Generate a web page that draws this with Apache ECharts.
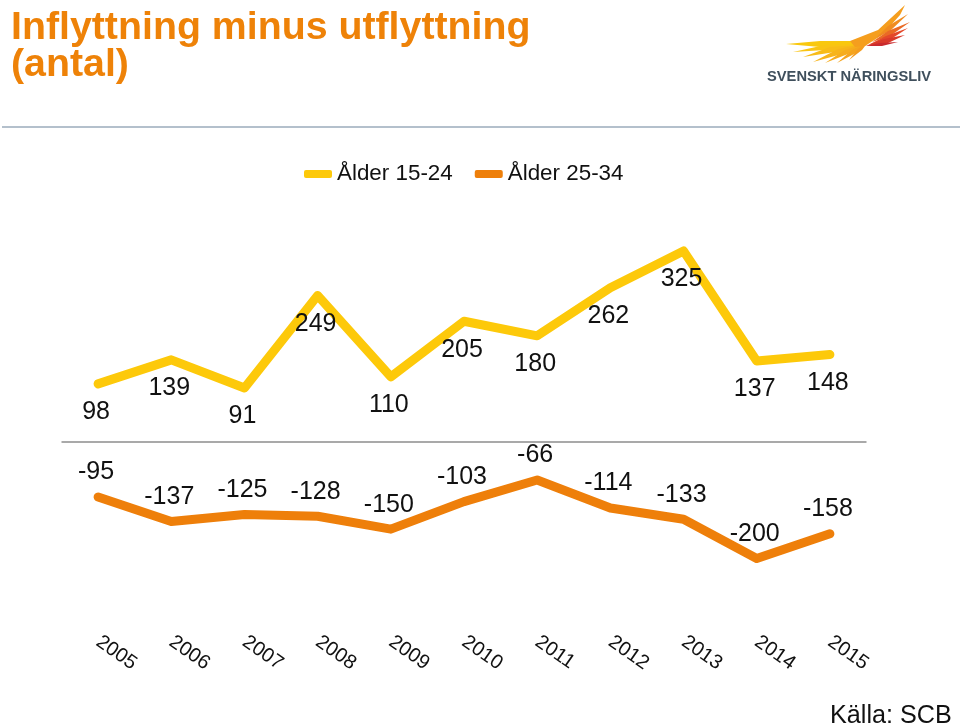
<!DOCTYPE html>
<html>
<head>
<meta charset="utf-8">
<style>html,body{margin:0;padding:0;background:#fff}#main{width:960px;height:725px}</style>
<script src="https://cdn.jsdelivr.net/npm/echarts@6/dist/echarts.min.js"></script>
</head>
<body>
<div id="main"></div>
<script>
const years = ['2005','2006','2007','2008','2009','2010','2011','2012','2013','2014','2015'];
const age1524 = [98,139,91,249,110,205,180,262,325,137,148];
const age2534 = [-95,-137,-125,-128,-150,-103,-66,-114,-133,-200,-158];

const font = '"Liberation Sans", Arial, sans-serif';

// logo wings, just decoration
const feathers = [
  {c:'#f9c80e', p:[[786,44],[820,41],[855,41],[868,40],[860,47],[820,47]]},
  {c:'#f9c414', p:[[793,52],[825,45],[860,44],[825,50]]},
  {c:'#f8bc18', p:[[803,57],[830,47],[860,45],[835,52]]},
  {c:'#f7b41b', p:[[813,62],[838,49],[862,44],[842,54]]},
  {c:'#f6ac1d', p:[[825,63],[845,50],[864,44],[848,54]]},
  {c:'#f5a41e', p:[[837,63],[852,50],[866,43],[856,53]]},
  {c:'#f49c1f', p:[[849,60],[858,49],[868,42],[862,50]]},
  {c:'#f59e1e', p:[[850,41],[878,30],[905,5],[900,15],[882,35],[865,46],[855,47]]},
  {c:'#f08c20', p:[[908,14],[888,26],[876,38],[890,31]]},
  {c:'#ea6a25', p:[[910,22],[888,31],[872,42],[890,36]]},
  {c:'#e4482a', p:[[908,28],[886,36],[868,45],[888,41]]},
  {c:'#d93a2b', p:[[905,35],[884,39],[866,46],[886,44]]},
  {c:'#c92a2e', p:[[898,42],[880,43],[866,46],[882,46]]}
];

const chart = echarts.init(document.getElementById('main'));
chart.setOption({
  animation: false,
  textStyle: {fontFamily: font},
  title: {
    text: 'Inflyttning minus utflyttning\n(antal)',
    left: 11, top: 9,
    padding: 0,
    textStyle: {color: '#ee8208', fontSize: 39.3, lineHeight: 37.5, fontWeight: 'bold', fontFamily: font}
  },
  legend: {
    top: 158, left: 299,
    itemWidth: 28, itemHeight: 8, itemGap: 22,
    icon: 'roundRect',
    textStyle: {fontSize: 22.4, color: '#111', fontFamily: font},
    data: ['Ålder 15-24','Ålder 25-34']
  },
  grid: {left: 61.5, width: 805, top: 207, height: 410},
  xAxis: {
    type: 'category',
    data: years,
    axisLine: {show: false},
    axisTick: {show: false},
    axisLabel: {rotate: -35, fontSize: 20, color: '#111', margin: 23, fontFamily: font}
  },
  yAxis: {type: 'value', min: -300, max: 400, show: false, splitLine: {show: false}},
  series: [{
    name: 'Ålder 15-24',
    type: 'line',
    data: age1524,
    symbol: 'circle',
    symbolSize: 2,
    lineStyle: {color: '#fdc90a', width: 9, cap: 'round', join: 'round'},
    itemStyle: {color: '#fdc90a'},
    label: {show: true, position: 'bottom', distance: 15, offset: [-2, 0], fontSize: 25, color: '#111', fontFamily: font},
    markLine: {
      silent: true,
      symbol: 'none',
      label: {show: false},
      lineStyle: {color: '#8c8c8c', width: 1.5, type: 'solid'},
      data: [{yAxis: 0}]
    }
  }, {
    name: 'Ålder 25-34',
    type: 'line',
    data: age2534,
    symbol: 'circle',
    symbolSize: 2,
    lineStyle: {color: '#ee7f0a', width: 9, cap: 'round', join: 'round'},
    itemStyle: {color: '#ee7f0a'},
    label: {show: true, position: 'top', distance: 11, offset: [-2, 0], fontSize: 25, color: '#111', fontFamily: font}
  }],
  graphic: [
    {type: 'line', shape: {x1: 2, y1: 127, x2: 960, y2: 127}, style: {stroke: '#b4c0cc', lineWidth: 2}},
    {type: 'text', left: 830, top: 704, style: {text: 'Källa: SCB', font: '25.2px ' + font, fill: '#111'}},
    {type: 'text', left: 767, top: 69, style: {text: 'SVENSKT NÄRINGSLIV', font: 'bold 14.7px ' + font, fill: '#3f4f5c'}}
  ].concat(feathers.map(f => ({type: 'polygon', shape: {points: f.p}, style: {fill: f.c}})))
});
</script>
</body>
</html>
